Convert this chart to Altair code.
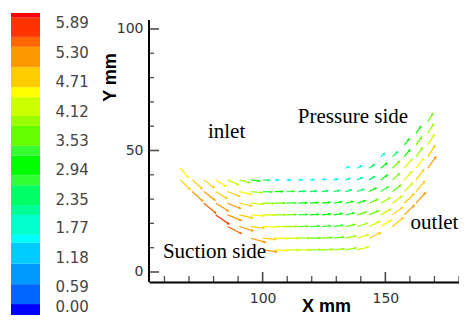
import math
import altair as alt
import pandas as pd

# ---------------- legend (contour levels) ----------------
level_lo = [-0.02, 0.24, 0.64, 1.05, 1.47, 1.63, 2.03, 2.23, 2.63, 2.83,
            3.22, 3.42, 3.82, 4.02, 4.40, 4.60, 5.00, 5.41, 5.61, 6.00]
level_hi = [0.24, 0.64, 1.05, 1.47, 1.63, 2.03, 2.23, 2.63, 2.83, 3.22,
            3.42, 3.82, 4.02, 4.40, 4.60, 5.00, 5.41, 5.61, 6.00, 6.09]
level_colors = ["#0000FF", "#0066FF", "#0099FF", "#00CCFF", "#00FFFF",
                "#00FFCC", "#00FF99", "#00FF66", "#33FF33", "#00FF00",
                "#33FF33", "#66FF00", "#99FF00", "#CCFF00", "#FFFF00",
                "#FFCC00", "#FF9900", "#FF6600", "#FF3300", "#FF0000"]
legend_labels = [0.00, 0.59, 1.18, 1.77, 2.35, 2.94, 3.53, 4.12, 4.71, 5.30, 5.89]

# ---------------- vector grid (mm) ----------------
col_X = [66.5, 71.3, 76.1, 80.9, 85.7, 90.5, 95.3, 100.1, 104.9, 109.7, 114.5,
         119.3, 124.1, 128.9, 133.7, 138.5, 143.3, 148.1, 152.9, 157.7, 162.5, 167.3]

# row Y, first column index, speeds, angles (deg)
rA_Y, rA_k0 = 61.9, 21
rA_speed = [3.5]
rA_angle = [58]

rB_Y, rB_k0 = 57.1, 20
rB_speed = [3.1, 3.9]
rB_angle = [55, 58]

rC_Y, rC_k0 = 52.3, 19
rC_speed = [2.9, 3.5, 4.3]
rC_angle = [50, 55, 58]

rD_Y, rD_k0 = 47.5, 17
rD_speed = [2.0, 2.6, 3.2, 3.9, 4.7]
rD_angle = [38, 44, 50, 54, 57]

rE_Y, rE_k0 = 42.7, 0
rE_speed = [4.5]
rE_angle = [-50]

rF_Y, rF_k0 = 42.7, 14
rF_speed = [1.6, 2.0, 2.5, 3.0, 3.6, 4.2, 4.5, 5.0]
rF_angle = [22, 28, 34, 40, 45, 50, 53, 55]

rG_Y, rG_k0 = 37.9, 0
rG_speed = [4.9, 4.7, 4.6, 4.4, 4.3, 3.9, 3.2, 2.5, 1.55, 1.55, 1.55, 1.55,
            1.55, 1.6, 1.8, 2.1, 2.5, 3.0, 3.5, 4.1, 4.7]
rG_angle = [-45, -42, -38, -33, -25, -15, -8, -3, 0, 0, 2, 5, 8, 12, 18, 24,
            30, 36, 42, 48, 53]

rH_Y, rH_k0 = 33.1, 1
rH_speed = [5.1, 5.0, 4.8, 4.6, 4.4, 4.0, 3.4, 3.0, 2.8, 2.6, 2.4, 2.3, 2.3,
            2.4, 2.6, 2.9, 3.3, 3.8, 4.3, 4.8]
rH_angle = [-42, -38, -32, -22, -13, -6, -2, 0, 2, 3, 5, 8, 11, 15, 20, 26,
            32, 38, 45, 50]

rI_Y, rI_k0 = 28.3, 2
rI_speed = [5.5, 5.3, 5.0, 4.6, 4.3, 4.0, 3.7, 3.4, 3.2, 3.0, 3.0, 3.0, 3.0,
            3.2, 3.5, 3.9, 4.3, 4.8, 5.1]
rI_angle = [-40, -32, -22, -12, -5, -1, 1, 2, 3, 5, 7, 10, 13, 18, 24, 30,
            37, 44, 48]

rJ_Y, rJ_k0 = 23.5, 3
rJ_speed = [5.7, 5.3, 4.9, 4.5, 4.2, 3.9, 3.6, 3.4, 3.2, 3.2, 3.2, 3.3, 3.5,
            3.8, 4.2, 4.6, 5.0]
rJ_angle = [-35, -22, -13, -5, -1, 1, 2, 3, 4, 6, 9, 12, 17, 23, 30, 37, 44]

rK_Y, rK_k0 = 18.7, 4
rK_speed = [5.6, 5.2, 4.8, 4.5, 4.2, 3.9, 3.6, 3.4, 3.3, 3.4, 3.6, 3.9, 4.2,
            4.5, 4.9]
rK_angle = [-27, -17, -7, -2, 0, 1, 2, 3, 5, 8, 12, 18, 25, 32, 40]

rL_Y, rL_k0 = 13.9, 6
rL_speed = [5.3, 4.7, 4.4, 4.2, 4.0, 3.8, 3.7, 3.7, 3.9, 4.2, 4.6]
rL_angle = [-16, -5, -1, 0, 1, 2, 4, 7, 12, 18, 25]

rM_Y, rM_k0 = 9.1, 7
rM_speed = [5.0, 4.5, 4.3, 4.1, 4.0, 3.9, 3.9, 4.0, 4.2]
rM_angle = [-8, -3, -1, 0, 1, 3, 6, 10, 15]

# ---------------- annotations & ticks ----------------
ann_text = ["inlet", "Pressure side", "outlet", "Suction side"]
ann_X = [85.3, 136.8, 170.0, 80.4]
ann_Y = [55.1, 61.5, 17.7, 5.8]

ytick_major = [0, 50, 100]
ytick_minor = [10, 20, 30, 40, 60, 70, 80, 90]
xtick_major = [100, 150]
xtick_minor = [60, 70, 80, 90, 110, 120, 130, 140, 160, 170, 180]
yaxis_span = [-4.12, 103.7]

# ---------------- build vector table ----------------
rows = [
    (rA_Y, rA_k0, rA_speed, rA_angle), (rB_Y, rB_k0, rB_speed, rB_angle),
    (rC_Y, rC_k0, rC_speed, rC_angle), (rD_Y, rD_k0, rD_speed, rD_angle),
    (rE_Y, rE_k0, rE_speed, rE_angle), (rF_Y, rF_k0, rF_speed, rF_angle),
    (rG_Y, rG_k0, rG_speed, rG_angle), (rH_Y, rH_k0, rH_speed, rH_angle),
    (rI_Y, rI_k0, rI_speed, rI_angle), (rJ_Y, rJ_k0, rJ_speed, rJ_angle),
    (rK_Y, rK_k0, rK_speed, rK_angle), (rL_Y, rL_k0, rL_speed, rL_angle),
    (rM_Y, rM_k0, rM_speed, rM_angle),
]
PX_X, PX_Y = 2.4545, 2.43     # px per mm on each axis
LEN = 2.9                      # px per unit speed
recs = []
for Y, k0, sp, an in rows:
    for i, (s, a) in enumerate(zip(sp, an)):
        X = col_X[k0 + i]
        L = LEN * s
        c, sn = math.cos(math.radians(a)), math.sin(math.radians(a))
        recs.append(dict(
            X=X, Y=Y, speed=s,
            X2=X + L * c / PX_X, Y2=Y + L * sn / PX_Y,
            HX=X + (L - 1.2) * c / PX_X, HY=Y + (L - 1.2) * sn / PX_Y,
            rot=(360 - a) % 360,
        ))
vec = pd.DataFrame(recs)

xscale = alt.Scale(domain=[53.7, 180.0], nice=False, zero=False)
yscale = alt.Scale(domain=[-4.12, 106.58], nice=False, zero=False)
cscale = alt.Scale(type="threshold", domain=level_lo[1:], range=level_colors)

x_axis = alt.Axis(values=xtick_major, title="X mm", grid=False, ticks=False,
                  tickSize=0, domain=True, domainColor="black", domainWidth=2,
                  labelPadding=9, labelFont="DejaVu Sans", labelFontSize=14,
                  labelColor="#333333", titleFont="Liberation Sans",
                  titleFontWeight="bold", titleFontSize=18, titleColor="black",
                  titleX=177, titleY=29, titleAlign="center",
                  titleBaseline="alphabetic")
y_axis = alt.Axis(values=ytick_major, title="Y mm", grid=False, ticks=False,
                  tickSize=0, domain=False, labelPadding=6,
                  labelFont="DejaVu Sans", labelFontSize=14, labelColor="#333333",
                  titleFont="Liberation Sans", titleFontWeight="bold",
                  titleFontSize=18, titleColor="black", titleX=-34, titleY=64,
                  titleAngle=270, titleAlign="center", titleBaseline="alphabetic")

base = alt.Chart(vec)
shafts = base.mark_rule(strokeWidth=1.2).encode(
    x=alt.X("X:Q", scale=xscale, axis=x_axis),
    y=alt.Y("Y:Q", scale=yscale, axis=y_axis),
    x2="X2:Q", y2="Y2:Q",
    color=alt.Color("speed:Q", scale=cscale, legend=None),
)
heads = base.mark_point(shape="triangle-right", filled=True, size=9, opacity=1).encode(
    x=alt.X("HX:Q", scale=xscale, axis=x_axis),
    y=alt.Y("HY:Q", scale=yscale, axis=y_axis),
    angle=alt.Angle("rot:Q", scale=None),
    color=alt.Color("speed:Q", scale=cscale, legend=None),
)

def tick_df(vals):
    return pd.DataFrame({"v": vals})

ymaj = alt.Chart(tick_df(ytick_major)).mark_tick(
    orient="horizontal", size=10, thickness=1.6, color="black").encode(
    y=alt.Y("v:Q", scale=yscale, axis=y_axis), x=alt.value(5))
ymin = alt.Chart(tick_df(ytick_minor)).mark_tick(
    orient="horizontal", size=5, thickness=1.3, color="black").encode(
    y=alt.Y("v:Q", scale=yscale, axis=y_axis), x=alt.value(2.5))
xmaj = alt.Chart(tick_df(xtick_major)).mark_tick(
    orient="vertical", size=10, thickness=1.6, color="black").encode(
    x=alt.X("v:Q", scale=xscale, axis=x_axis), y=alt.value(264))
xmin = alt.Chart(tick_df(xtick_minor)).mark_tick(
    orient="vertical", size=6, thickness=1.3, color="black").encode(
    x=alt.X("v:Q", scale=xscale, axis=x_axis), y=alt.value(266))
yline = alt.Chart(pd.DataFrame({"a": [yaxis_span[0]], "b": [yaxis_span[1]]})).mark_rule(
    strokeWidth=2, color="black").encode(
    y=alt.Y("a:Q", scale=yscale, axis=y_axis), y2="b:Q", x=alt.value(0))

texts = alt.Chart(pd.DataFrame({"t": ann_text, "X": ann_X, "Y": ann_Y})).mark_text(
    font="Liberation Serif", fontSize=21, align="center", baseline="alphabetic",
    color="black").encode(
    x=alt.X("X:Q", scale=xscale, axis=x_axis),
    y=alt.Y("Y:Q", scale=yscale, axis=y_axis),
    text="t:N")

main = alt.layer(shafts, heads, yline, ymaj, ymin, xmaj, xmin, texts).properties(
    width=310, height=269)

legend_df = pd.DataFrame({"lo": level_lo, "hi": level_hi, "col": level_colors})
legend = alt.Chart(legend_df).mark_rect().encode(
    y=alt.Y("lo:Q", scale=alt.Scale(domain=[-0.02, 6.09], nice=False, zero=False),
            axis=alt.Axis(orient="right", values=legend_labels, format=".2f",
                          ticks=False, tickSize=0, domain=False, grid=False,
                          labelPadding=15, labelFont="DejaVu Sans",
                          labelFontSize=15, labelColor="#444444",
                          labelAlign="left", labelBaseline="middle",
                          labelOffset={"condition": {"test": "datum.value < 0.1",
                                                     "value": -10},
                                       "value": 0},
                          title=None)),
    y2="hi:Q",
    x=alt.value(0), x2=alt.value(29),
    color=alt.Color("col:N", scale=None),
).properties(width=29, height=304)

chart = alt.hconcat(legend, main, spacing=109, bounds="flush").properties(
    padding={"left": 3, "top": 5, "right": -1, "bottom": -2},
    background="white",
).configure_view(stroke=None)

chart.save("out.html", embed_options={"renderer": "svg", "actions": False})
